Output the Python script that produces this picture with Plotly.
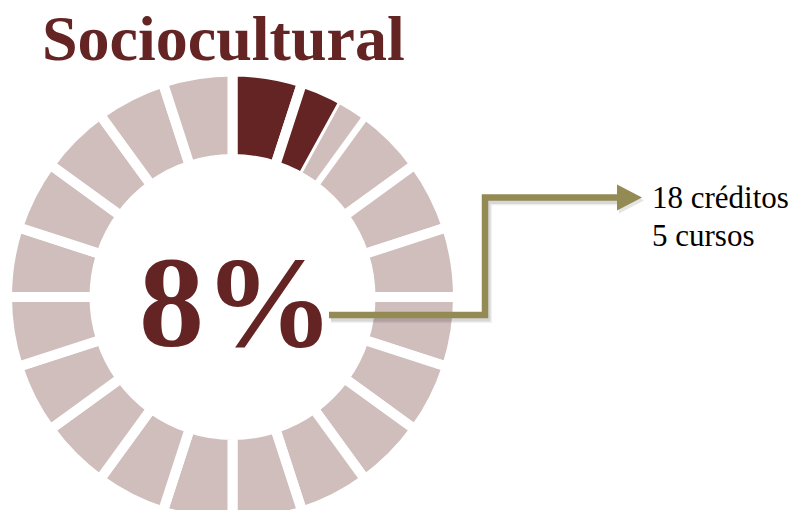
import plotly.graph_objects as go

# ---- data ----
titulo = "Sociocultural"
porcentaje = 8          # share of the programme, in %
creditos = 18
cursos = 5
n_segmentos = 20        # ring is split into 20 equal blocks (5 % each)

# ---- style ----
DARK = "#632423"
LIGHT = "#d0bebd"
OLIVE = "#948a54"
FONT = "Liberation Serif"

W, H = 797, 523
CX, CY = 232.5, 297          # ring centre (px from top-left)
R_OUT, R_IN = 220.5, 143     # visible outer / inner radius of the blocks
GAP = 10                     # white gap between blocks
THIN = 3                     # gap where the filled share ends inside a block


def px(x):
    return x / W


def py(y):
    return (H - y) / H


def domain_for(radius):
    return dict(x=[px(CX - radius), px(CX + radius)],
                y=[py(CY + radius), py(CY - radius)])


paso = 100 / n_segmentos
seg_vals = [paso] * n_segmentos
seg_cols = [DARK if i * paso < porcentaje else LIGHT for i in range(n_segmentos)]

# remainder of the block in which the percentage ends
fin_bloque = (int(porcentaje // paso) + 1) * paso
resto_vals = [porcentaje, fin_bloque - porcentaje, 100 - fin_bloque]
resto_cols = ["rgba(0,0,0,0)", LIGHT, "rgba(0,0,0,0)"]

fig = go.Figure()

r1 = R_OUT + GAP / 2
fig.add_trace(go.Pie(
    values=seg_vals, sort=False, direction="clockwise", rotation=0,
    hole=(R_IN - GAP / 2) / r1, domain=domain_for(r1),
    marker=dict(colors=seg_cols, line=dict(color="white", width=GAP)),
    textinfo="none", hoverinfo="skip", showlegend=False,
))

r2 = R_OUT + THIN / 2
fig.add_trace(go.Pie(
    values=resto_vals, sort=False, direction="clockwise", rotation=0,
    hole=(R_IN - THIN / 2) / r2, domain=domain_for(r2),
    marker=dict(colors=resto_cols,
                line=dict(color="white", width=[0, THIN, 0])),
    textinfo="none", hoverinfo="skip", showlegend=False,
))


def path(points, dx=0, dy=0, close=False):
    s = "M " + " L ".join(f"{px(x + dx)},{py(y + dy)}" for x, y in points)
    return s + (" Z" if close else "")


linea = [(329, 315), (485, 315), (485, 197.5), (620, 197.5)]
punta = [(617, 184.5), (642, 197.5), (617, 210.5)]

shapes = []
# soft drop shadow under the connector
for w_, a_ in [(10, 0.06), (7, 0.10)]:
    shapes.append(dict(type="path", xref="paper", yref="paper",
                       path=path(linea, 2, 3),
                       line=dict(color=f"rgba(0,0,0,{a_})", width=w_)))
shapes.append(dict(type="path", xref="paper", yref="paper",
                   path=path(punta, 2, 3, close=True),
                   fillcolor="rgba(0,0,0,0.10)", line=dict(width=0)))
shapes.append(dict(type="path", xref="paper", yref="paper",
                   path=path(linea),
                   line=dict(color=OLIVE, width=6.5)))
shapes.append(dict(type="path", xref="paper", yref="paper",
                   path=path(punta, close=True),
                   fillcolor=OLIVE, line=dict(width=0)))

annotations = [
    dict(text=f"<b>{titulo}</b>", x=px(223.5), y=py(38.5),
         font=dict(family=FONT, size=64, color=DARK)),
    dict(text=f"<b>{porcentaje}%</b>", x=px(236), y=py(302),
         font=dict(family=FONT, size=130, color=DARK)),
    dict(text=f"{creditos} créditos", x=px(650), y=py(197.8), xanchor="left",
         font=dict(family=FONT, size=31, color="black")),
    dict(text=f"{cursos} cursos", x=px(650), y=py(235.2), xanchor="left",
         font=dict(family=FONT, size=31, color="black")),
]
for a in annotations:
    a.update(xref="paper", yref="paper", showarrow=False)
    a.setdefault("xanchor", "center")
    a.setdefault("yanchor", "middle")

fig.update_layout(
    width=W, height=H, margin=dict(l=0, r=0, t=0, b=0),
    paper_bgcolor="white", plot_bgcolor="white",
    shapes=shapes, annotations=annotations,
)

fig.write_html(
    "out.html",
    config={"displayModeBar": False},
    post_script="document.documentElement.style.overflow='hidden';"
                "document.body.style.overflow='hidden';"
                "document.body.style.margin='0';",
)
